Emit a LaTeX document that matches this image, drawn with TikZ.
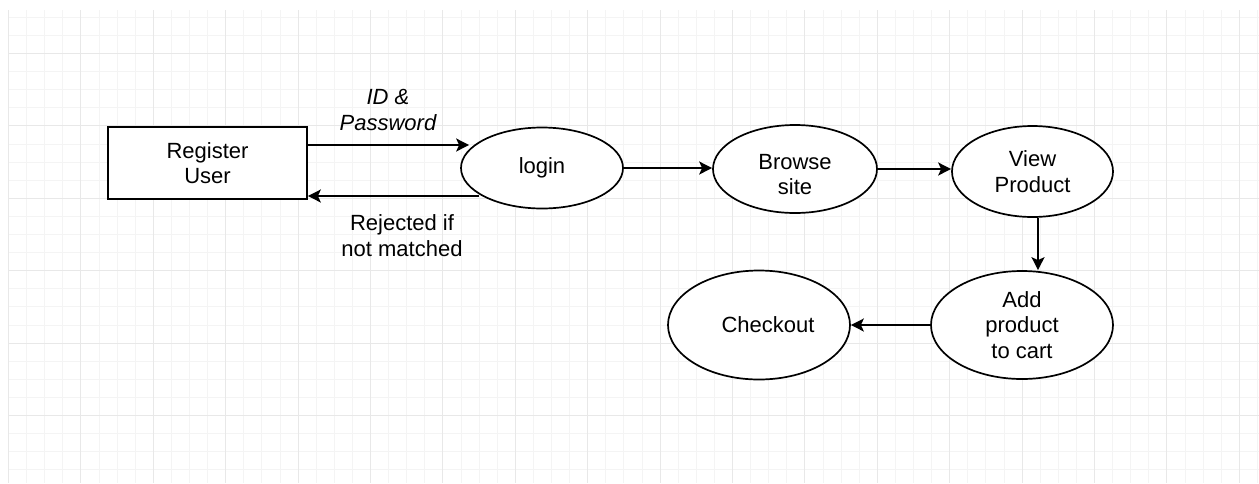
\documentclass[tikz,border=0pt]{standalone}
\usepackage{fontspec}
\setmainfont{Liberation Sans}
\usetikzlibrary{shapes.geometric,arrows.meta}
\definecolor{gridminor}{HTML}{F4F4F4}
\definecolor{gridmajor}{HTML}{E8E8E8}
\tikzset{
  minorline/.style={draw=gridminor,line width=1.5pt},
  majorline/.style={draw=gridmajor,line width=1.5pt},
  txt/.style={font=\fontsize{22}{25.5}\selectfont,align=center,text=black},
  procbox/.style={txt,draw=black,line width=1.7pt,fill=white,rectangle,inner sep=0pt,minimum width=199pt,minimum height=72pt},
  procell/.style={txt,draw=black,line width=1.7pt,fill=white,ellipse,inner sep=0pt},
  flow/.style={draw=black,line width=1.8pt,-{Stealth[length=13pt,width=13pt,inset=3pt]}},
  lbl/.style={txt}
}
\begin{document}
\begin{tikzpicture}[x=1pt,y=-1pt]
\useasboundingbox (0,0) rectangle (1259,483);
\fill[white] (0,0) rectangle (1259,483);
% grid
\foreach \i in {0,...,69} {\draw[minorline] ({8.5+round(18.1*\i)},10) -- ({8.5+round(18.1*\i)},483);}
\foreach \j in {-2,...,23} {\draw[minorline] (8,{53.5+round(18.1*\j)}) -- (1259,{53.5+round(18.1*\j)});}
\foreach \i in {0,...,17} {\draw[majorline] ({8.5+round(72.4*\i)},10) -- ({8.5+round(72.4*\i)},483);}
\foreach \j in {0,...,5} {\draw[majorline] (8,{53.5+round(72.4*\j)}) -- (1259,{53.5+round(72.4*\j)});}
% nodes
\node[procbox] (reg) at (207.5,163) {Register\\User};
\node[procell,minimum width=162pt,minimum height=81pt] (login) at (542,168) {login};
\node[procell,minimum width=164pt,minimum height=88pt] (browse) at (795,169) {\rule{0pt}{26pt}Browse\\site};
\node[procell,minimum width=161pt,minimum height=91pt] (view) at (1032.5,171.5) {View\\Product};
\node[procell,minimum width=182pt,minimum height=108pt] (add) at (1022,325) {Add\\product\\to cart};
\node[procell,minimum width=182pt,minimum height=109pt] (checkout) at (759,325) {\hspace*{18pt}Checkout};
% labels
\node[lbl,font=\fontsize{22}{25.5}\selectfont\itshape] (lblid) at (388,110) {ID \&\\Password};
\node[lbl] (lblrej) at (402,235.5) {Rejected if\\not matched};
% connectors
\draw[flow] ([yshift=18pt]reg.east) -- ([xshift=9pt,yshift=23pt]login.west);
\draw[flow] ([xshift=19pt,yshift=-28pt]login.west) -- ([yshift=-33pt]reg.east);
\draw[flow] (login.east) -- (login.east -| browse.west);
\draw[flow] (browse.east) -- (browse.east -| view.west);
\draw[flow] ([xshift=5.5pt]view.south) -- ([xshift=5.5pt]view.south |- add.north);
\draw[flow] (add.west) -- (checkout.east);
\end{tikzpicture}
\end{document}
